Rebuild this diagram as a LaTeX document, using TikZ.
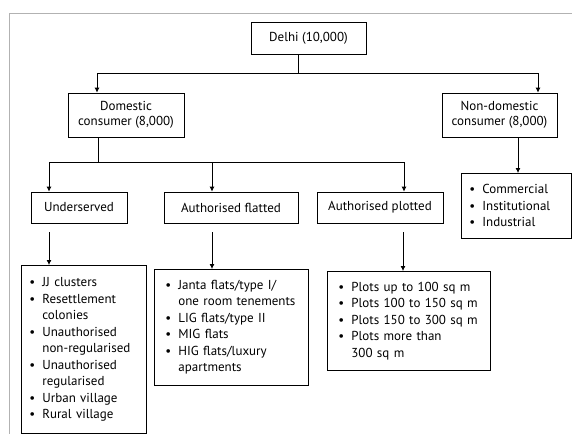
\documentclass[tikz,border=0pt]{standalone}
\usepackage{fontspec}
\setmainfont{PT Sans}
\usetikzlibrary{arrows.meta}

\newcommand{\itm}[1]{\makebox[13pt][l]{\textbullet}#1}
\newcommand{\cnt}{\hspace*{13pt}}

\begin{document}
\begin{tikzpicture}[x=1pt, y=-1pt,
  box/.style = {draw, line width=0.8pt, inner sep=0pt, align=center, font=\fontsize{13}{15}\selectfont},
  list/.style = {draw, line width=0.8pt, anchor=north west, align=left, inner xsep=8pt, inner ysep=0pt, font=\fontsize{13}{16.5}\selectfont},
  arr/.style = {-{Latex[length=5pt,width=5pt]}, line width=0.8pt},
  link/.style = {line width=0.8pt}]
\useasboundingbox (0,0) rectangle (572,434);
\draw[gray!60, line width=1pt] (572,13) -- (9,13) -- (9,434);

% boxes
\node[box, minimum width=115pt, minimum height=32pt] (delhi) at (308.5,38) {Delhi (10,000)};
\node[box, minimum width=116pt, minimum height=44pt] (dom) at (126,115) {Domestic\\consumer (8,000)};
\node[box, minimum width=115pt, minimum height=44pt] (nondom) at (499.5,115) {Non-domestic\\consumer (8,000)};
\node[box, minimum width=96pt, minimum height=31pt] (under) at (79,207.5) {Underserved};
\node[box, minimum width=134pt, minimum height=31pt] (flat) at (231,207.5) {Authorised flatted};
\node[box, minimum width=126pt, minimum height=31pt] (plot) at (380,207.5) {Authorised plotted};

% lists
\node[list, text width=109pt, minimum height=168pt] (underlist) at (21,265)
  {\itm{JJ clusters}\\ \itm{Resettlement}\\ \cnt colonies\\ \itm{Unauthorised}\\ \cnt non-regularised\\
   \itm{Unauthorised}\\ \cnt regularised\\ \itm{Urban village}\\ \itm{Rural village}};
\node[list, inner xsep=11pt, text width=132pt, minimum height=116pt] (flatlist) at (154,269)
  {\itm{Janta flats/type I/}\\ \cnt one room tenements\\ \itm{LIG flats/type II}\\ \itm{MIG flats}\\
   \itm{HIG flats/luxury}\\ \cnt apartments};
\node[list, inner xsep=11pt, text width=141pt, minimum height=99pt] (plotlist) at (327,271)
  {\itm{Plots up to 100 sq m}\\ \itm{Plots 100 to 150 sq m}\\ \itm{Plots 150 to 300 sq m}\\
   \itm{Plots more than}\\ \cnt 300 sq m};
\node[list, text width=94pt, minimum height=65pt] (nondomlist) at (461,173)
  {\itm{Commercial}\\ \itm{Institutional}\\ \itm{Industrial}};

% connectors
\coordinate (top) at (298,73);
\draw[link] (delhi.south -| top) -- (top);
\draw[arr] (top) -| ([xshift=-29pt]dom.north);
\draw[arr] (top) -| ([xshift=38.5pt]nondom.north);

\coordinate (mid) at (98,162);
\draw[link] (dom.south -| mid) -- (mid);
\draw[arr] (mid) -| ([xshift=-30pt]under.north);
\draw[arr] (mid) -| ([xshift=-19pt]flat.north);
\draw[arr] (mid) -| ([xshift=24pt]plot.north);

\coordinate (n1) at ([xshift=18.5pt]nondom.south);
\draw[arr] (n1) -- (n1 |- nondomlist.north);

\coordinate (u1) at ([xshift=-30pt,yshift=-9pt]under.south);
\coordinate (f1) at ([xshift=-19pt,yshift=-9pt]flat.south);
\coordinate (p1) at ([xshift=23pt,yshift=-9pt]plot.south);
\draw[arr] (u1) -- (u1 |- underlist.north);
\draw[arr] (f1) -- (f1 |- flatlist.north);
\draw[arr] (p1) -- (p1 |- plotlist.north);
\end{tikzpicture}
\end{document}
